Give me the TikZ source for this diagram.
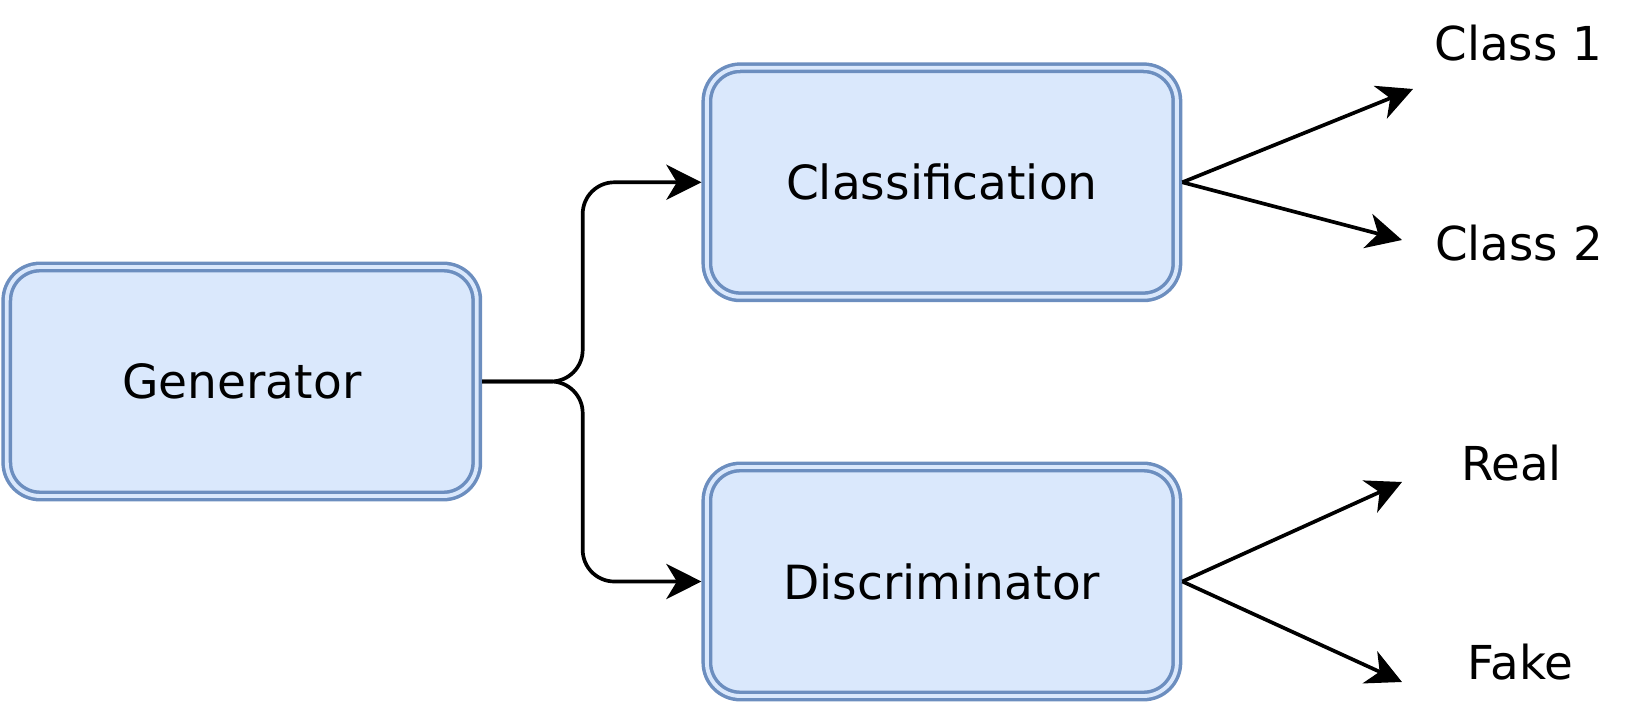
\documentclass[tikz,border=0pt]{standalone}
\usepackage{fontspec}
\setmainfont{DejaVu Sans}
\usetikzlibrary{arrows.meta}
\definecolor{boxFill}{HTML}{DAE8FC}
\definecolor{boxLine}{HTML}{6C8EBF}
\tikzset{
  stagebox/.style={draw=boxLine,double=boxFill,line width=1.0pt,double distance=1.1pt,
    fill=boxFill,rounded corners=9.5pt,minimum width=4.70cm,minimum height=2.29cm,
    inner sep=0pt,outer sep=1.55pt,font=\fontsize{13.4}{16}\selectfont},
  outlabel/.style={anchor=base,inner sep=0pt,font=\fontsize{13.3}{16}\selectfont},
  conn/.style={draw=black,line width=1.05pt,-{Stealth[length=10pt,width=10pt,inset=3pt]}}
}

\begin{document}
\begin{tikzpicture}
  \useasboundingbox (0,0) rectangle (16.44,-7.16);
  \node[stagebox] (gen) at (2.418,-3.815) {Generator};
  \node[stagebox] (cls) at (9.419,-1.823) {Classification};
  \node[stagebox] (dis) at (9.419,-5.815) {Discriminator};
  \coordinate (split) at (5.827,-3.815);
  \draw[conn,rounded corners=9pt] (gen.east) -- (split) |- (cls.west);
  \draw[conn,rounded corners=9pt] (gen.east) -- (split) |- (dis.west);
  \node[outlabel] (c1) at (15.185,-0.61) {Class 1};
  \node[outlabel] (c2) at (15.19,-2.61) {Class 2};
  \node[outlabel] (real) at (15.115,-4.81) {Real};
  \node[outlabel] (fake) at (15.205,-6.80) {Fake};
  \coordinate (c1tip) at (14.13,-0.89);
  \coordinate (c2tip) at (14.02,-2.40);
  \coordinate (realtip) at (14.02,-4.82);
  \coordinate (faketip) at (14.02,-6.82);
  \draw[conn] (cls.east) -- (c1tip);
  \draw[conn] (cls.east) -- (c2tip);
  \draw[conn] (dis.east) -- (realtip);
  \draw[conn] (dis.east) -- (faketip);
\end{tikzpicture}
\end{document}
